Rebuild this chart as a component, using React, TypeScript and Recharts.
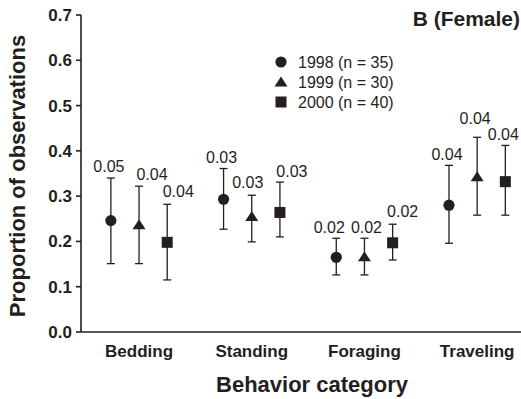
import React from 'react';
import { ComposedChart, Scatter, XAxis, YAxis, ErrorBar, Legend, Label } from 'recharts';

// categories on the x axis
const categories = ['Bedding', 'Standing', 'Foraging', 'Traveling'];
const seriesNames = ['1998 (n = 35)', '1999 (n = 30)', '2000 (n = 40)'];
const yTicks = [0, 0.1, 0.2, 0.3, 0.4, 0.5, 0.6, 0.7];

// mean proportion per category
const mean1998 = [0.246, 0.293, 0.165, 0.28];
const mean1999 = [0.237, 0.255, 0.166, 0.343];
const mean2000 = [0.198, 0.264, 0.197, 0.332];

// whisker ends
const low1998 = [0.151, 0.227, 0.126, 0.196];
const high1998 = [0.34, 0.361, 0.207, 0.368];
const low1999 = [0.151, 0.199, 0.126, 0.258];
const high1999 = [0.322, 0.302, 0.207, 0.43];
const low2000 = [0.115, 0.21, 0.159, 0.258];
const high2000 = [0.282, 0.331, 0.238, 0.412];

// numbers printed over the whiskers
const se1998 = ['0.05', '0.03', '0.02', '0.04'];
const se1999 = ['0.04', '0.03', '0.02', '0.04'];
const se2000 = ['0.04', '0.03', '0.02', '0.04'];

const ink = '#231f20';
const font = '"Liberation Sans", Arial, Helvetica, sans-serif';
const offsets = [-0.25, 0, 0.25];
// nudges for the printed numbers (px), so they don't collide
const labelDx = [
  [-2, -2, -7, -2],
  [13, -4, 2, -2],
  [11, 12, 10, -2],
];
const labelDy = [
  [-6, -6, -5, -5],
  [-6, -7, -5, -13],
  [-7, -5, -7, -5],
];

const series = [
  { name: seriesNames[0], mean: mean1998, low: low1998, high: high1998, se: se1998 },
  { name: seriesNames[1], mean: mean1999, low: low1999, high: high1999, se: se1999 },
  { name: seriesNames[2], mean: mean2000, low: low2000, high: high2000, se: se2000 },
];

const points = series.map((s, k) =>
  categories.map((c, i) => ({
    x: i + offsets[k],
    y: s.mean[i],
    err: [s.mean[i] - s.low[i], s.high[i] - s.mean[i]],
  })),
);

const labels = series.map((s, k) =>
  categories.map((c, i) => ({
    x: i + offsets[k],
    y: s.high[i],
    text: s.se[i],
    dx: labelDx[k][i],
    dy: labelDy[k][i],
  })),
);

const Marker = ({ kind, cx, cy }: { kind: number; cx: number; cy: number }) => {
  if (kind === 0) return <circle cx={cx} cy={cy} r={5.6} fill={ink} />;
  if (kind === 1)
    return <polygon points={`${cx - 6.5},${cy + 4.5} ${cx + 6.5},${cy + 4.5} ${cx},${cy - 5.5}`} fill={ink} />;
  return <rect x={cx - 5.5} y={cy - 5.5} width={11} height={11} fill={ink} />;
};

const LegendBox = () => (
  <svg width={150} height={62}>
    {seriesNames.map((n, k) => (
      <g key={n}>
        <Marker kind={k} cx={8} cy={10 + k * 20} />
        <text x={25} y={16 + k * 20} fontSize={16} fill={ink} fontFamily={font}>
          {n}
        </text>
      </g>
    ))}
  </svg>
);

export default function App() {
  return (
    <div style={{ position: 'absolute', left: 0, top: 0, width: 521, height: 399, background: '#fff', fontFamily: font }}>
      <ComposedChart width={521} height={399} margin={{ top: 15, right: 0, bottom: 0, left: 0 }}>
        <XAxis
          type="number"
          dataKey="x"
          domain={[-0.515, 3.389]}
          allowDataOverflow
          ticks={[0, 1, 2, 3]}
          tickFormatter={(v: number) => categories[v]}
          tickLine={false}
          tickSize={0}
          tickMargin={13}
          height={67}
          axisLine={{ stroke: ink, strokeWidth: 1.6 }}
          tick={{ fill: ink, fontSize: 17, fontWeight: 'bold', fontFamily: font }}
        >
          <Label
            content={() => (
              <text x={312} y={392} textAnchor="middle" fontSize={22} fontWeight="bold" fill={ink} fontFamily={font}>
                Behavior category
              </text>
            )}
          />
        </XAxis>
        <YAxis
          type="number"
          domain={[0, 0.7]}
          ticks={yTicks}
          tickFormatter={(v: number) => v.toFixed(1)}
          width={81}
          tickSize={5}
          tickMargin={4}
          axisLine={{ stroke: ink, strokeWidth: 1.6 }}
          tickLine={{ stroke: ink, strokeWidth: 1.6 }}
          tick={{ fill: ink, fontSize: 17, fontWeight: 'bold', fontFamily: font }}
        >
          <Label
            content={() => (
              <text
                x={25}
                y={176}
                transform="rotate(-90 25 176)"
                textAnchor="middle"
                fontSize={22}
                fontWeight="bold"
                fill={ink}
                fontFamily={font}
              >
                Proportion of observations
              </text>
            )}
          />
        </YAxis>
        <Legend
          layout="vertical"
          align="center"
          verticalAlign="middle"
          content={() => <LegendBox />}
          wrapperStyle={{ position: 'absolute', left: 273, top: 52, width: 150, height: 62 }}
        />
        {points.map((d, k) => (
          <Scatter
            key={seriesNames[k]}
            name={seriesNames[k]}
            data={d}
            dataKey="y"
            isAnimationActive={false}
            shape={(p: any) => <Marker kind={k} cx={p.cx} cy={p.cy} />}
          >
            <ErrorBar dataKey="err" direction="y" width={4} stroke={ink} strokeWidth={1.3} />
          </Scatter>
        ))}
        {labels.map((d, k) => (
          <Scatter
            key={'lab' + k}
            data={d}
            dataKey="y"
            legendType="none"
            isAnimationActive={false}
            shape={(p: any) => (
              <text
                x={p.cx + p.payload.dx}
                y={p.cy + p.payload.dy}
                textAnchor="middle"
                fontSize={16}
                fill={ink}
                fontFamily={font}
              >
                {p.payload.text}
              </text>
            )}
          />
        ))}
      </ComposedChart>
      <div
        style={{
          position: 'absolute',
          right: 1,
          top: 6,
          fontSize: 21,
          fontWeight: 'bold',
          color: ink,
          fontFamily: font,
          lineHeight: '26px',
        }}
      >
        B (Female)
      </div>
    </div>
  );
}
